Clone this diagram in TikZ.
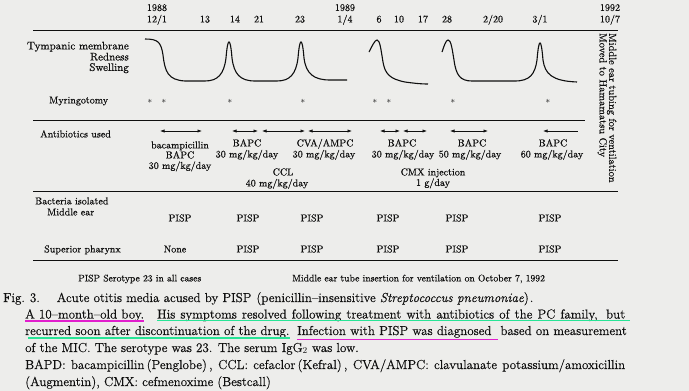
\documentclass[tikz,border=0pt]{standalone}
\usepackage{fontspec}
\setmainfont{Latin Modern Roman}[FakeBold=0.45]
\usetikzlibrary{arrows.meta}
\definecolor{paper}{RGB}{237,237,235}
\definecolor{ink}{RGB}{15,15,15}
\definecolor{mag}{RGB}{225,30,205}
\definecolor{grn}{RGB}{40,228,150}
\begin{document}
\begin{tikzpicture}[x=1pt,y=-1pt,
  t/.style={inner sep=0pt, text=ink, text height=6.8pt, text depth=0pt, font=\fontsize{10}{12}\selectfont},
  tl/.style={t, anchor=west},
  tr/.style={t, anchor=east},
  bigtxt/.style={t, font=\fontsize{11}{13}\selectfont},
  verttxt/.style={t, rotate=-90, anchor=west, font=\fontsize{10.4}{12}\selectfont},
  notetxt/.style={tl, font=\fontsize{9.6}{12}\selectfont},
  captxt/.style={inner sep=0pt, text=ink, anchor=base west, font=\fontsize{13}{17}\selectfont},
  rulel/.style={draw=ink, line width=0.9pt},
  curvel/.style={draw=ink, line width=1.1pt},
  abx/.style={draw=ink, line width=0.6pt, {Latex[length=4.5pt,width=3.2pt]}-{Latex[length=4.5pt,width=3.2pt]}},
  abxl/.style={draw=ink, line width=0.6pt, {Latex[length=4.5pt,width=3.2pt]}-},
  startxt/.style={inner sep=0pt, text=ink, font=\fontsize{9}{10}\selectfont},
  hl/.style={line width=1.8pt}
]
\fill[paper] (0,0) rectangle (689,391);
\useasboundingbox (0,0) rectangle (689,391);

% dates
\node[t] (y88) at (157,7.5) {1988};
\node[t] (d121) at (157,19) {12/1};
\node[t] (d13) at (205,19) {13};
\node[t] (d14) at (235,19) {14};
\node[t] (d21) at (259,19) {21};
\node[t] (d23) at (300,19) {23};
\node[t] (y89) at (345,7.5) {1989};
\node[t] (d14b) at (345,19) {1/4};
\node[t] (d6) at (379,19) {6};
\node[t] (d10) at (399,19) {10};
\node[t] (d17) at (423,19) {17};
\node[t] (d28) at (447,19) {28};
\node[t] (d220) at (493,19) {2/20};
\node[t] (d31) at (540,19) {3/1};
\node[t] (y92) at (610,7.5) {1992};
\node[t] (d107) at (610,19) {10/7};

% rules
\draw[rulel] (33,30) -- (618,30);
\draw[rulel] (33,120) -- (585,120);
\draw[rulel] (33,191) -- (618,191);
\draw[rulel] (33,260) -- (618,260);

% vertical notes
\node[verttxt] (vt1) at (612.5,33) {Middle ear tubing for ventilation};
\node[verttxt] (vt2) at (603,33) {Moved to Hamamatsu City};

% left labels
\node[bigtxt, anchor=east] (tm) at (129,46) {Tympanic membrane};
\node[bigtxt, anchor=east] (rd) at (129,57) {Redness};
\node[bigtxt, anchor=east] (sw) at (129,67.5) {Swelling};
\node[tl] (my) at (49,100) {Myringotomy};
\node[tl] (ab) at (40,134) {Antibiotics used};
\node[tl] (bi) at (35,201) {Bacteria isolated};
\node[tl] (me) at (47,212) {Middle ear};
\node[tl] (sp) at (44,249) {Superior pharynx};

% tympanic membrane curves
\draw[curvel] (145,39) .. controls (158,39) and (161,42) .. (163,55)
  .. controls (165,72) and (168,80) .. (185,81) -- (205,81)
  .. controls (218,81) and (224,74) .. (226,58)
  .. controls (227,46) and (228,42) .. (229,42)
  .. controls (230,42) and (231,46) .. (232,58)
  .. controls (234,74) and (240,81) .. (255,81) -- (277,81)
  .. controls (290,81) and (296,74) .. (298,58)
  .. controls (299,46) and (300,42) .. (301,42)
  .. controls (302,42) and (303,46) .. (304,58)
  .. controls (306,74) and (314,80) .. (330,80) -- (347,80);
\draw[curvel] (369,52) .. controls (372,46) and (375,40) .. (377,40)
  .. controls (380,40) and (381,50) .. (383,62)
  .. controls (385,74) and (390,79) .. (405,82)
  .. controls (412,83) and (420,84) .. (428,84);
\draw[curvel] (442,52) .. controls (444,46) and (446,40) .. (448,40)
  .. controls (451,40) and (452,48) .. (454,60)
  .. controls (456,75) and (460,81) .. (472,81) -- (515,81)
  .. controls (530,81) and (535,74) .. (537,60)
  .. controls (538,48) and (539,43) .. (540,43)
  .. controls (541,43) and (542,48) .. (543,60)
  .. controls (545,74) and (552,81) .. (577,82);

% myringotomy
\foreach \x/\n in {150/s1,164/s2,230/s3,303/s4,375/s5,389/s6,453/s7,548/s8}
  \node[startxt] (\n) at (\x,101) {$\ast$};

% antibiotics arrows
\coordinate (a1l) at (160,131); \coordinate (a1r) at (202,131);
\coordinate (a2l) at (232,131); \coordinate (a2r) at (258,131);
\coordinate (a3l) at (262,131); \coordinate (a3r) at (305,131);
\coordinate (a4l) at (308,131); \coordinate (a4r) at (352,131);
\coordinate (a5l) at (380,131); \coordinate (a5r) at (400,131);
\coordinate (a6l) at (403,131); \coordinate (a6r) at (427,131);
\coordinate (a7l) at (450,131); \coordinate (a7r) at (488,131);
\coordinate (a8l) at (543,131); \coordinate (a8r) at (578,131);
\draw[abx] (a1l) -- (a1r);
\draw[abx] (a2l) -- (a2r);
\draw[abx] (a3l) -- (a3r);
\draw[abx] (a4l) -- (a4r);
\draw[abx] (a5l) -- (a5r);
\draw[abx] (a6l) -- (a6r);
\draw[abx] (a7l) -- (a7r);
\draw[abxl] (a8l) -- (a8r);

% antibiotic labels
\node[t] (b1a) at (180,145) {bacampicillin};
\node[t] (b1b) at (180,155) {BAPC};
\node[t] (b1c) at (180,165.5) {30 mg/kg/day};
\node[t] (b2a) at (247,143) {BAPC};
\node[t] (b2b) at (247,154) {30 mg/kg/day};
\node[t] (b3a) at (325,143) {CVA/AMPC};
\node[t] (b3b) at (324,154) {30 mg/kg/day};
\node[t] (c1a) at (283,172) {CCL};
\node[t] (c1b) at (277,183) {40 mg/kg/day};
\node[t] (b4a) at (402,143) {BAPC};
\node[t] (b4b) at (403,154) {30 mg/kg/day};
\node[t] (b5a) at (472,143) {BAPC};
\node[t] (b5b) at (470,154) {50 mg/kg/day};
\node[t] (b6a) at (553,143) {BAPC};
\node[t] (b6b) at (552,154) {60 mg/kg/day};
\node[t] (cm1) at (433,172) {CMX injection};
\node[t] (cm2) at (433,182.5) {1 g/day};

% bacteria
\foreach \x/\n in {180/m1,248/m2,312/m3,388/m4,457/m5,550/m6}
  \node[t] (\n) at (\x,218) {PISP};
\node[t] (p1) at (175,249) {None};
\foreach \x/\n in {248/p2,312/p3,388/p4,457/p5,550/p6}
  \node[t] (\n) at (\x,249) {PISP};

% notes
\node[notetxt] (n1) at (78,278) {PISP Serotype 23 in all cases};
\node[notetxt] (n2) at (292,278) {Middle ear tube insertion for ventilation on October 7, 1992};

% caption
\node[captxt] (c1) at (3,302) {Fig.\hspace{5pt}3.\hspace{17pt}Acute otitis media acused by PISP\hspace{5pt}(penicillin--insensitive \textit{Streptococcus pneumoniae})\hspace{1pt}.};
\node[captxt] (c2a) at (25,318.5) {A 10--month--old boy.};
\node[captxt] (c2b) at (157,318.5) {\makebox[468pt][s]{His symptoms resolved following treatment with antibiotics of the PC family,\hspace{3pt} but}};
\node[captxt] (c3a) at (25,335) {recurred soon after discontinuation of the drug.};
\node[captxt] (c3b) at (297,335) {Infection with PISP was diagnosed};
\node[captxt, anchor=base east] (c3c) at (627,335) {based on measurement};
\node[captxt] (c4) at (25,352) {of the MIC. The serotype was 23. The serum IgG$_2$ was low.};
\node[captxt] (c5) at (25,369) {\makebox[600pt][s]{BAPD: bacampicillin\,(Penglobe)\,, CCL: cefaclor\,(Kefral)\,, CVA/AMPC: clavulanate potassium/amoxicillin}};
\node[captxt] (c6) at (25,386) {(Augmentin), CMX: cefmenoxime\hspace{4pt}(Bestcall)};

% highlights
\draw[hl, mag] (c2a.base west) ++(0,2.5) -- ([yshift=-2.5pt]c2a.base east);
\draw[hl, grn] (c2b.base west) ++(0,2) -- ([shift={(5pt,-2pt)}]c2b.base east);
\draw[hl, grn] (c3a.base west) ++(3,2.8) -- ([yshift=-2.8pt]c3a.base east);
\draw[hl, mag] (c3b.base west) ++(0,4.5) -- ([shift={(6pt,-4.5pt)}]c3b.base east);
\end{tikzpicture}
\end{document}
